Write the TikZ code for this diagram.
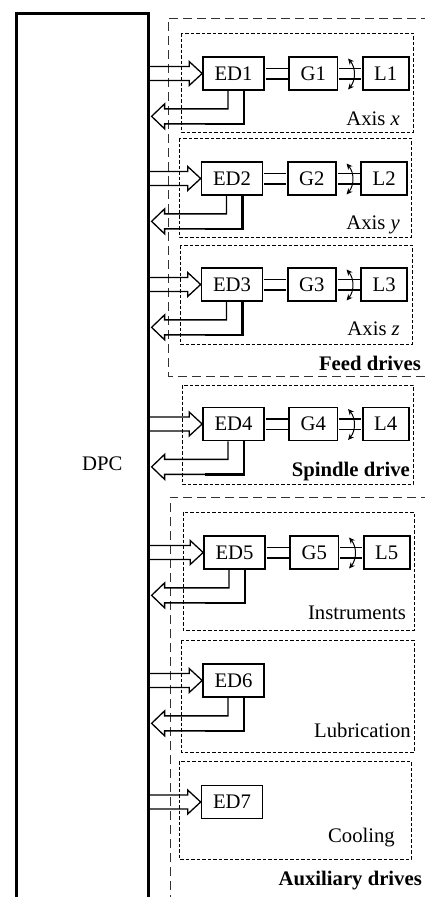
\documentclass[tikz,border=0pt]{standalone}
\usepackage{fontspec}
\setmainfont{Liberation Serif}
\usetikzlibrary{arrows.meta,positioning,calc}
\tikzset{
  txt/.style={font=\fontsize{20.7pt}{24pt}\selectfont},
  unit/.style={txt, draw, line width=1.7pt, minimum height=33pt, inner xsep=11.5pt, inner ysep=0pt},
  dpcbox/.style={draw, line width=2.6pt, minimum width=132pt, minimum height=900pt, inner sep=0pt},
  grp/.style={draw, line width=0.9pt, dash pattern=on 3.5pt off 2pt},
  outer/.style={draw=black!80, line width=1pt, dash pattern=on 9pt off 5pt},
  shaft/.style={double, double distance=9pt, line width=1.5pt, shorten <=0.8pt, shorten >=0.8pt},
  hollow/.style={line width=1.3pt, line join=miter},
  back/.style={line width=2.6pt},
  turn/.style={{Stealth[length=6pt,width=5.5pt]}-{Stealth[length=6pt,width=5.5pt]}, line width=1pt},
  lbl/.style={txt, inner sep=0pt, anchor=base east},
}
% hollow arrow from the DPC into a drive
\newcommand{\inlink}[1]{%
  \draw[hollow] ($(dpc.east |- #1.west)+(0,-7)$) -- ($(#1.west)+(-13,-7)$) -- ($(#1.west)+(-13,-12)$)
    -- (#1.west) -- ($(#1.west)+(-13,12)$) -- ($(#1.west)+(-13,7)$) -- ($(dpc.east |- #1.west)+(0,7)$);}
% feedback arrow from a drive back to the DPC
\newcommand{\outlink}[1]{%
  \draw[hollow] ($(#1.south)+(-5.5,0)$) |- ($(dpc.east |- #1.south)+(15,18)$) -- ++(0,-5)
    -- ($(dpc.east |- #1.south)+(2,25.5)$) -- ($(dpc.east |- #1.south)+(15,38)$) -- ++(0,-5)
    -| ($(#1.south)+(10.5,0)$);
  \draw[back] ($(#1.south)+(10.5,0)$) |- ($(dpc.east |- #1.south)+(55,33)$);}

\begin{document}
\begin{tikzpicture}[x=1pt, y=-1pt, node distance=23.5pt]
\useasboundingbox (0,0) rectangle (425,897);

\node[dpcbox, anchor=north west] (dpc) at (15,12) {};
\node[txt, inner sep=0pt] (dpclbl) at ([xshift=20pt]dpc.center) {DPC};

% groups
\draw[outer] (430,18) -| (168,376) -- (430,376);
\draw[outer] (430,497) -| (170,900);
\draw[grp] (181,33) rectangle (413,132);
\draw[grp] (179,138) rectangle (411,237);
\draw[grp] (180,245) rectangle (412,344);
\draw[grp] (182,385) rectangle (413,484);
\draw[grp] (183,512) rectangle (414,630);
\draw[grp] (181,640) rectangle (414,752);
\draw[grp] (179,761) rectangle (411,859);

\node[lbl] (axx) at (400,125) {Axis \textit{x}};
\node[lbl] (axy) at (400,229) {Axis \textit{y}};
\node[lbl] (axz) at (400,335) {Axis \textit{z}};
\node[lbl] (feedlbl) at (421,370) {\bfseries Feed drives};
\node[lbl] (spinlbl) at (410,476) {\bfseries Spindle drive};
\node[lbl] (instlbl) at (406,619) {Instruments};
\node[lbl] (lublbl) at (411,737) {Lubrication};
\node[lbl] (coollbl) at (395,842) {Cooling};
\node[lbl] (auxlbl) at (422,885) {\bfseries Auxiliary drives};

% drives
\node[unit] (ED1) at (233.5,73.5) {ED1};
\node[unit, right=of ED1] (G1) {G1};
\node[unit, right=of G1] (L1) {L1};
\node[unit] (ED2) at (232,178.5) {ED2};
\node[unit, right=of ED2] (G2) {G2};
\node[unit, right=of G2] (L2) {L2};
\node[unit] (ED3) at (232,284.5) {ED3};
\node[unit, right=of ED3] (G3) {G3};
\node[unit, right=of G3] (L3) {L3};
\node[unit] (ED4) at (233.5,424) {ED4};
\node[unit, right=of ED4] (G4) {G4};
\node[unit, right=of G4] (L4) {L4};
\node[unit] (ED5) at (234.5,552.5) {ED5};
\node[unit, right=of ED5] (G5) {G5};
\node[unit, right=of G5] (L5) {L5};
\node[unit] (ED6) at (233.5,680.5) {ED6};
\node[unit] (ED7) at (232,802) {ED7};

\foreach \i in {1,...,5} {
  \draw[shaft] (ED\i) -- (G\i);
  \draw[shaft] (G\i) -- (L\i);
  \draw[turn] ($(G\i.east)!0.5!(L\i.west)+(-2,-15)$) to[bend left=40] ($(G\i.east)!0.5!(L\i.west)+(-2,16)$);
}

\inlink{ED1} \outlink{ED1}
\inlink{ED2} \outlink{ED2}
\inlink{ED3} \outlink{ED3}
\inlink{ED4} \outlink{ED4}
\inlink{ED5} \outlink{ED5}
\inlink{ED6} \outlink{ED6}
\inlink{ED7}
\end{tikzpicture}
\end{document}
